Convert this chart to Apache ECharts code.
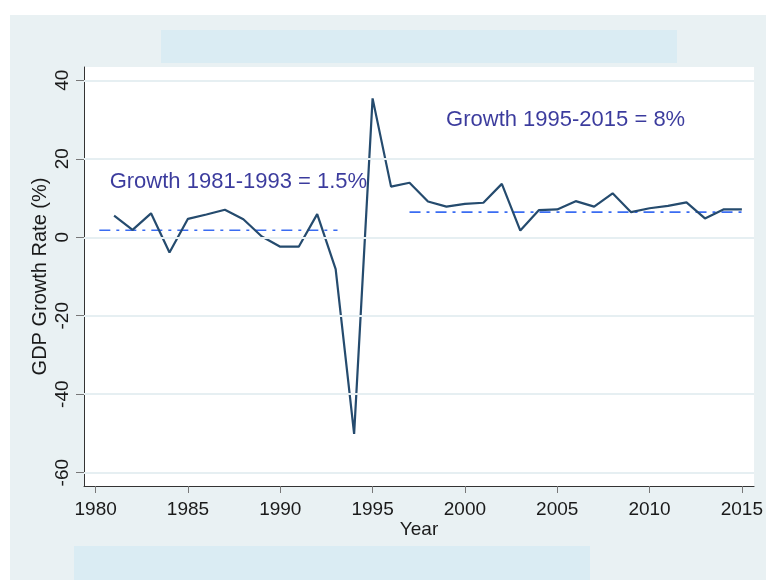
<!DOCTYPE html>
<html>
<head>
<meta charset="utf-8">
<script src="https://cdn.jsdelivr.net/npm/echarts@6/dist/echarts.min.js"></script>
<style>
html,body{margin:0;padding:0;background:#fff;}
#chart{width:766px;height:580px;}
</style>
</head>
<body>
<div id="chart"></div>
<script>
// ---- data ----
var years = [1981,1982,1983,1984,1985,1986,1987,1988,1989,1990,1991,1992,1993,1994,1995,1996,1997,1998,1999,2000,2001,2002,2003,2004,2005,2006,2007,2008,2009,2010,2011,2012,2013,2014,2015];
var growth = [5.5,1.9,6.1,-3.9,4.7,5.8,7.0,4.6,0.2,-2.4,-2.4,5.9,-8.1,-50.1,35.4,12.9,13.9,9.1,7.8,8.5,8.8,13.6,1.7,6.9,7.1,9.2,7.8,11.2,6.4,7.4,8.0,8.9,4.8,7.1,7.1];
var xTicks = [1980,1985,1990,1995,2000,2005,2010,2015];
var yTicks = [40,20,0,-20,-40,-60];
var refLeftX = [1980.2, 1993.1];
var refLeftY = 1.8;
var refRightX = [1997.0, 2015.2];
var refRightY = 6.4;
var noteTexts = ['Growth 1981-1993 = 1.5%', 'Growth 1995-2015 = 8%'];
var noteX = [1980.76, 1998.98];
var noteY = [14.1, 30.0];

var chart = echarts.init(document.getElementById('chart'), null, {renderer:'canvas'});
var font = 'Liberation Sans, Arial, sans-serif';
var dashDot = [11,6,3,6];

var option = {
  animation: false,
  backgroundColor: 'transparent',
  graphic: {
    elements: [
      {type:'rect', z:-10, shape:{x:10,y:15,width:756,height:565}, style:{fill:'#e9f1f3'}},
      {type:'rect', z:-9, shape:{x:161,y:30,width:516,height:33}, style:{fill:'#daecf3'}},
      {type:'rect', z:-9, shape:{x:74,y:546,width:516,height:34}, style:{fill:'#daecf3'}}
    ]
  },
  grid: {
    left: 84, top: 67, right: 11, bottom: 94,
    show: true, backgroundColor: '#ffffff', borderWidth: 0
  },
  xAxis: {
    type: 'value',
    min: 1979.37, max: 2015.66,
    name: 'Year', nameLocation: 'middle', nameGap: 34, nameMoveOverlap: false,
    nameTextStyle: {fontFamily: font, fontSize: 19, color: '#1a1a1a'},
    axisLine: {show: true, onZero: false, lineStyle: {color: '#333', width: 1}},
    axisTick: {show: true, length: 7, customValues: xTicks, lineStyle: {color: '#777', width: 1}},
    axisLabel: {customValues: xTicks, margin: 14, fontFamily: font, fontSize: 19, color: '#1a1a1a',
      formatter: function(v){ return String(Math.round(v)); }},
    splitLine: {show: false}
  },
  yAxis: {
    type: 'value',
    min: -63.39, max: 43.39,
    name: 'GDP Growth Rate (%)', nameLocation: 'middle', nameRotate: 90, nameGap: 34, nameMoveOverlap: false,
    nameTextStyle: {fontFamily: font, fontSize: 20, color: '#1a1a1a'},
    axisLine: {show: true, onZero: false, lineStyle: {color: '#333', width: 1}},
    axisTick: {show: true, length: 8, customValues: yTicks, lineStyle: {color: '#777', width: 1}},
    axisLabel: {customValues: yTicks, rotate: 90, margin: 12, fontFamily: font, fontSize: 19, color: '#1a1a1a',
      formatter: function(v){ return String(Math.round(v)); }},
    splitLine: {show: false}
  },
  series: [
    {
      type: 'line', silent: true, data: [], z: 1,
      markLine: {
        silent: true, symbol: 'none', animation: false,
        label: {show: false},
        lineStyle: {type: 'solid', color: '#e6eff2', width: 2},
        data: yTicks.map(function(v){ return {yAxis: v}; })
      }
    },
    {
      type: 'line', showSymbol: false, silent: true, z: 3,
      lineStyle: {color: '#3a6cf2', width: 1.6, type: dashDot},
      data: [[refLeftX[0], refLeftY], [refLeftX[1], refLeftY]]
    },
    {
      type: 'line', showSymbol: false, silent: true, z: 3,
      lineStyle: {color: '#3a6cf2', width: 1.6, type: dashDot},
      data: [[refRightX[0], refRightY], [refRightX[1], refRightY]]
    },
    {
      type: 'line', showSymbol: false, silent: true, z: 4,
      lineStyle: {color: '#254b6e', width: 2.2},
      data: years.map(function(y, i){ return [y, growth[i]]; })
    },
    {
      type: 'scatter', symbolSize: 0, silent: true, z: 5,
      data: noteX.map(function(x, i){ return {value: [x, noteY[i]], name: noteTexts[i]}; }),
      label: {
        show: true, position: 'right', distance: 0,
        formatter: function(p){ return p.name; },
        fontFamily: font, fontSize: 22, color: '#0a0a84'
      }
    }
  ]
};
chart.setOption(option);
</script>
</body>
</html>
